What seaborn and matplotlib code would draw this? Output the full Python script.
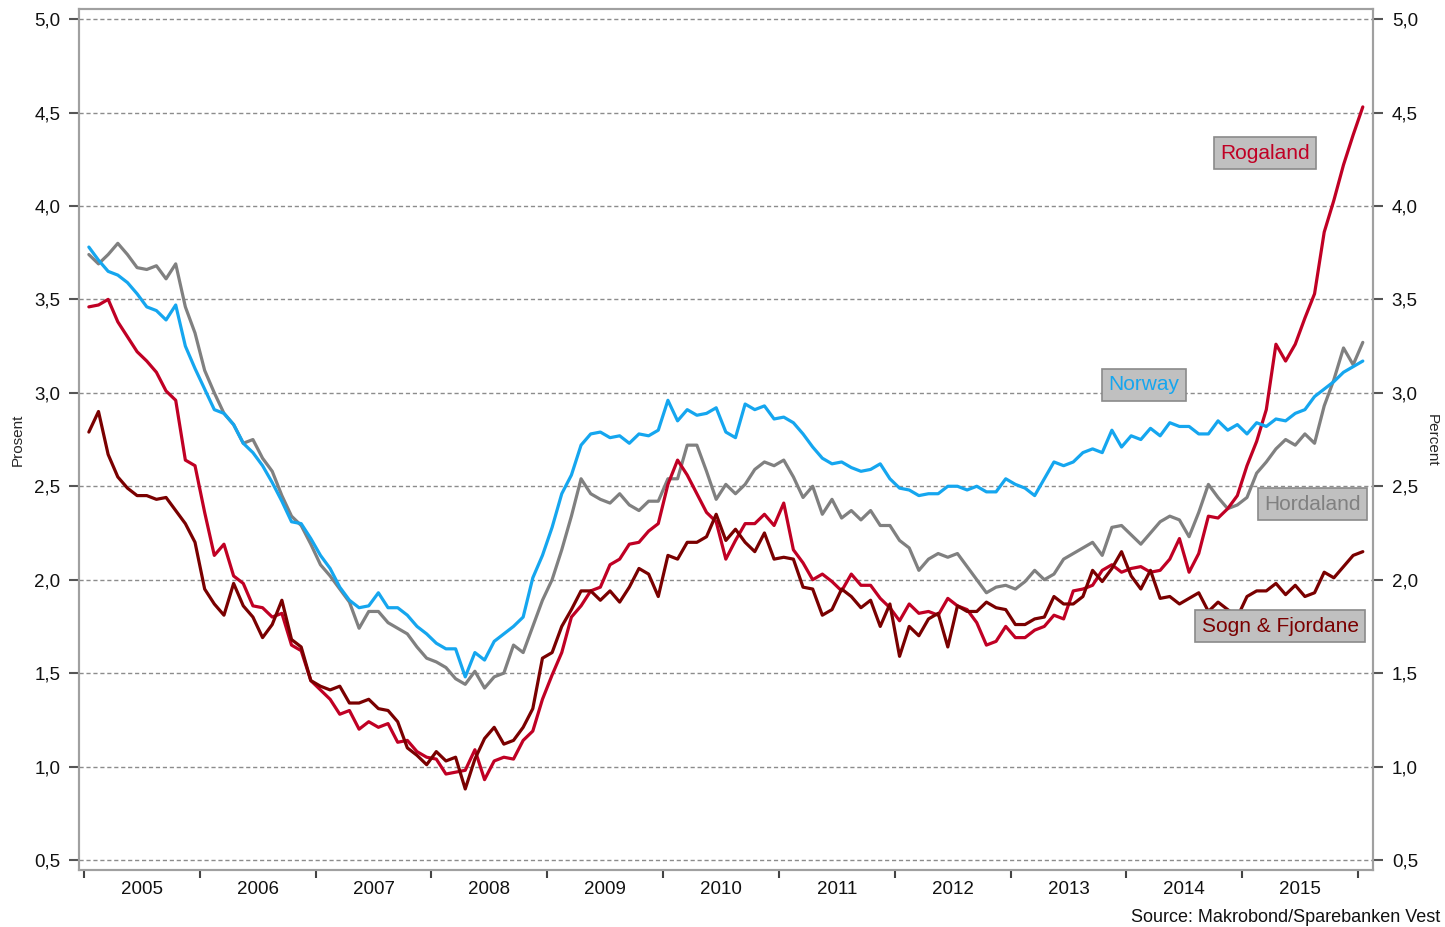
import numpy as np
import pandas as pd
import matplotlib
matplotlib.use("Agg")
import matplotlib.pyplot as plt
import seaborn as sns
from matplotlib.ticker import FixedLocator, FuncFormatter

# monthly observations, Jan 2005 - Jan 2016
months = pd.period_range("2005-01", "2016-01", freq="M")

norway = [3.78, 3.71, 3.65, 3.63, 3.59, 3.53, 3.46, 3.44, 3.39, 3.47, 3.25, 3.13,
          3.02, 2.91, 2.89, 2.83, 2.73, 2.68, 2.61, 2.52, 2.42, 2.31, 2.30, 2.22,
          2.13, 2.06, 1.96, 1.89, 1.85, 1.86, 1.93, 1.85, 1.85, 1.81, 1.75, 1.71,
          1.66, 1.63, 1.63, 1.48, 1.61, 1.57, 1.67, 1.71, 1.75, 1.80, 2.01, 2.13,
          2.28, 2.46, 2.56, 2.72, 2.78, 2.79, 2.76, 2.77, 2.73, 2.78, 2.77, 2.80,
          2.96, 2.85, 2.91, 2.88, 2.89, 2.92, 2.79, 2.76, 2.94, 2.91, 2.93, 2.86,
          2.87, 2.84, 2.78, 2.71, 2.65, 2.62, 2.63, 2.60, 2.58, 2.59, 2.62, 2.54,
          2.49, 2.48, 2.45, 2.46, 2.46, 2.50, 2.50, 2.48, 2.50, 2.47, 2.47, 2.54,
          2.51, 2.49, 2.45, 2.54, 2.63, 2.61, 2.63, 2.68, 2.70, 2.68, 2.80, 2.71,
          2.77, 2.75, 2.81, 2.77, 2.84, 2.82, 2.82, 2.78, 2.78, 2.85, 2.80, 2.83,
          2.78, 2.84, 2.82, 2.86, 2.85, 2.89, 2.91, 2.98, 3.02, 3.06, 3.11, 3.14,
          3.17]

hordaland = [3.74, 3.69, 3.74, 3.80, 3.74, 3.67, 3.66, 3.68, 3.61, 3.69, 3.46, 3.32,
             3.12, 3.00, 2.89, 2.83, 2.73, 2.75, 2.65, 2.58, 2.45, 2.34, 2.29, 2.19,
             2.08, 2.02, 1.95, 1.88, 1.74, 1.83, 1.83, 1.77, 1.74, 1.71, 1.64, 1.58,
             1.56, 1.53, 1.47, 1.44, 1.51, 1.42, 1.48, 1.50, 1.65, 1.61, 1.75, 1.89,
             2.00, 2.16, 2.34, 2.54, 2.46, 2.43, 2.41, 2.46, 2.40, 2.37, 2.42, 2.42,
             2.54, 2.54, 2.72, 2.72, 2.58, 2.43, 2.51, 2.46, 2.51, 2.59, 2.63, 2.61,
             2.64, 2.55, 2.44, 2.50, 2.35, 2.43, 2.33, 2.37, 2.32, 2.37, 2.29, 2.29,
             2.21, 2.17, 2.05, 2.11, 2.14, 2.12, 2.14, 2.07, 2.00, 1.93, 1.96, 1.97,
             1.95, 1.99, 2.05, 2.00, 2.03, 2.11, 2.14, 2.17, 2.20, 2.13, 2.28, 2.29,
             2.24, 2.19, 2.25, 2.31, 2.34, 2.32, 2.23, 2.36, 2.51, 2.44, 2.38, 2.40,
             2.44, 2.57, 2.63, 2.70, 2.75, 2.72, 2.78, 2.73, 2.93, 3.07, 3.24, 3.15,
             3.27]

rogaland = [3.46, 3.47, 3.50, 3.38, 3.30, 3.22, 3.17, 3.11, 3.01, 2.96, 2.64, 2.61,
            2.36, 2.13, 2.19, 2.02, 1.98, 1.86, 1.85, 1.80, 1.82, 1.65, 1.62, 1.46,
            1.41, 1.36, 1.28, 1.30, 1.20, 1.24, 1.21, 1.23, 1.13, 1.14, 1.08, 1.05,
            1.04, 0.96, 0.97, 0.98, 1.09, 0.93, 1.03, 1.05, 1.04, 1.14, 1.19, 1.36,
            1.49, 1.61, 1.80, 1.86, 1.94, 1.96, 2.08, 2.11, 2.19, 2.20, 2.26, 2.30,
            2.51, 2.64, 2.56, 2.46, 2.36, 2.31, 2.11, 2.21, 2.30, 2.30, 2.35, 2.29,
            2.41, 2.16, 2.09, 2.00, 2.03, 1.99, 1.94, 2.03, 1.97, 1.97, 1.90, 1.85,
            1.78, 1.87, 1.82, 1.83, 1.81, 1.90, 1.86, 1.84, 1.77, 1.65, 1.67, 1.75,
            1.69, 1.69, 1.73, 1.75, 1.81, 1.79, 1.94, 1.95, 1.97, 2.05, 2.08, 2.04,
            2.06, 2.07, 2.04, 2.05, 2.11, 2.22, 2.04, 2.14, 2.34, 2.33, 2.38, 2.45,
            2.61, 2.74, 2.91, 3.26, 3.17, 3.26, 3.40, 3.53, 3.86, 4.03, 4.22, 4.38,
            4.53]

sogn_fjordane = [2.79, 2.90, 2.67, 2.55, 2.49, 2.45, 2.45, 2.43, 2.44, 2.37, 2.30, 2.20,
                 1.95, 1.87, 1.81, 1.98, 1.86, 1.80, 1.69, 1.76, 1.89, 1.68, 1.64, 1.46,
                 1.43, 1.41, 1.43, 1.34, 1.34, 1.36, 1.31, 1.30, 1.24, 1.10, 1.06, 1.01,
                 1.08, 1.03, 1.05, 0.88, 1.04, 1.15, 1.21, 1.12, 1.14, 1.21, 1.31, 1.58,
                 1.61, 1.75, 1.84, 1.94, 1.94, 1.89, 1.94, 1.88, 1.96, 2.06, 2.03, 1.91,
                 2.13, 2.11, 2.20, 2.20, 2.23, 2.35, 2.21, 2.27, 2.20, 2.15, 2.25, 2.11,
                 2.12, 2.11, 1.96, 1.95, 1.81, 1.84, 1.95, 1.91, 1.85, 1.89, 1.75, 1.87,
                 1.59, 1.75, 1.70, 1.79, 1.82, 1.64, 1.86, 1.83, 1.83, 1.88, 1.85, 1.84,
                 1.76, 1.76, 1.79, 1.80, 1.91, 1.87, 1.87, 1.91, 2.05, 1.99, 2.06, 2.15,
                 2.02, 1.95, 2.05, 1.90, 1.91, 1.87, 1.90, 1.93, 1.83, 1.88, 1.84, 1.80,
                 1.91, 1.94, 1.94, 1.98, 1.92, 1.97, 1.91, 1.93, 2.04, 2.01, 2.07, 2.13,
                 2.15]

regions = ["Hordaland", "Rogaland", "Sogn & Fjordane", "Norway"]
colors = {"Norway": "#15a6ef", "Hordaland": "#808080",
          "Rogaland": "#c00024", "Sogn & Fjordane": "#7a0000"}

# decimal year, mid-month
xyear = months.year + (months.month - 0.5) / 12
df = pd.DataFrame({"x": xyear, "Norway": norway, "Hordaland": hordaland,
                   "Rogaland": rogaland, "Sogn & Fjordane": sogn_fjordane})
long = df.melt(id_vars="x", var_name="region", value_name="pct")

sns.set_style("white")
plt.rcParams["font.family"] = ["Liberation Sans", "DejaVu Sans"]

fig = plt.figure(figsize=(14.45, 9.27), dpi=100)
ax = fig.add_axes([0.0547, 0.0615, 0.8955, 0.9288])
sns.lineplot(data=long, x="x", y="pct", hue="region", hue_order=regions,
             palette=colors, linewidth=2.3, legend=False, ax=ax)

ylo, yhi = 0.4465, 5.054
yt = np.arange(0.5, 5.01, 0.5)
fmt = FuncFormatter(lambda v, p: f"{v:.1f}".replace(".", ","))
ax.set_xlim(2004.957, 2016.13)
ax.set_ylim(ylo, yhi)
ax.yaxis.set_major_locator(FixedLocator(yt))
ax.yaxis.set_major_formatter(fmt)
ax.yaxis.grid(True, linestyle=(0, (3, 2)), color="#8c8c8c", linewidth=1)
ax.set_xlabel("")
ax.set_ylabel("")

# year boundaries as ticks, year names centred between them
ax.xaxis.set_major_locator(FixedLocator(np.arange(2005, 2017)))
ax.xaxis.set_major_formatter(FuncFormatter(lambda v, p: ""))
ax.xaxis.set_minor_locator(FixedLocator(np.arange(2005.5, 2016, 1.0)))
ax.xaxis.set_minor_formatter(FuncFormatter(lambda v, p: str(int(v))))
ax.tick_params(axis="x", which="major", length=6, width=1.5, color="#444444", direction="out")
ax.tick_params(axis="x", which="minor", length=0, pad=8, labelsize=13.5, labelcolor="#111111")
ax.tick_params(axis="y", length=7, width=1.5, color="#555555", pad=6.5, labelsize=13.5,
               labelcolor="#111111")
ax.tick_params(left=True, bottom=True)

for s in ax.spines.values():
    s.set_color("#a0a0a0")
    s.set_linewidth(1.5)

ax2 = ax.twinx()
ax2.set_ylim(ylo, yhi)
ax2.yaxis.set_major_locator(FixedLocator(yt))
ax2.yaxis.set_major_formatter(fmt)
ax2.tick_params(axis="y", right=True, length=7, width=1.5, color="#555555", pad=6.5,
                labelsize=13.5, labelcolor="#111111")
for s in ax2.spines.values():
    s.set_color("#a0a0a0")
    s.set_linewidth(1.5)

fig.text(18 / 1445, 1 - 440 / 927, "Prosent", rotation=90, ha="center", va="center", fontsize=11)
fig.text(1432 / 1445, 1 - 440 / 927, "Percent", rotation=270, ha="center", va="center", fontsize=11)

# series labels
box = dict(boxstyle="square,pad=0.3", facecolor="#c0c0c0", edgecolor="#8a8a8a", linewidth=1.2)
labels = [("Rogaland", 2015.20, 4.283), ("Norway", 2014.154, 3.042),
          ("Hordaland", 2015.604, 2.405), ("Sogn & Fjordane", 2015.328, 1.752)]
for name, lx, ly in labels:
    ax2.text(lx, ly, name, color=colors[name], fontsize=15, ha="center", va="center",
             bbox=box, zorder=5)

fig.text(1440 / 1445, 1 - 918 / 927, "Source: Makrobond/Sparebanken Vest",
         ha="right", va="center", fontsize=13, color="#111111")

fig.savefig("out.png", dpi=100)
